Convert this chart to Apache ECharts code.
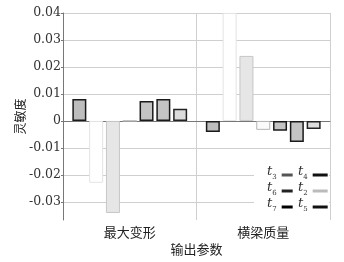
<!DOCTYPE html>
<html><head><meta charset="utf-8">
<script src="https://cdn.jsdelivr.net/npm/echarts@6/dist/echarts.min.js"></script>
<style>html,body{margin:0;padding:0;background:#fff}#c{width:344px;height:262px}</style>
</head><body><div id="c"></div>
<script>
var categories = ['最大变形', '横梁质量'];
var seriesNames = ['t1', 't2', 't3', 't4', 't5', 't6', 't7'];
var t1 = [0.0081, -0.0041];
var t2 = [-0.0229, 0.0400];
var t3 = [-0.0341, 0.0241];
var t4 = [0.0000, -0.0033];
var t5 = [0.0074, -0.0036];
var t6 = [0.0081, -0.0078];
var t7 = [0.0045, -0.0030];
var yTicks = [-0.03, -0.02, -0.01, 0, 0.01, 0.02, 0.03, 0.04];
var legendLeft = ['t3', 't6', 't7'];
var legendRight = ['t4', 't2', 't5'];

var values = [t1, t2, t3, t4, t5, t6, t7];
var styles = [
  {color: '#bdbdbd', borderColor: '#1a1a1a', borderWidth: 1.5},
  {color: '#ffffff', borderColor: '#e4e4e4', borderWidth: 1},
  {color: '#e6e6e6', borderColor: '#c6c6c6', borderWidth: 1},
  {color: '#fbfbfb', borderColor: '#b5b5b5', borderWidth: 1},
  {color: '#c4c4c4', borderColor: '#1a1a1a', borderWidth: 1.5},
  {color: '#c4c4c4', borderColor: '#1a1a1a', borderWidth: 1.5},
  {color: '#dcdcdc', borderColor: '#222222', borderWidth: 1.5}
];
var legendColors = {t3: '#555', t6: '#222', t7: '#000', t4: '#111', t2: '#bbb', t5: '#111'};

var series = seriesNames.map(function (n, i) {
  return {name: n, type: 'bar', data: values[i], barWidth: 14, barGap: '20%', itemStyle: styles[i]};
});

function legendCfg(names, left, w) {
  return {
    data: names.map(function (n) { return {name: n, itemStyle: {color: legendColors[n], borderWidth: 0}}; }),
    orient: 'vertical', left: left, top: 165, itemGap: 0, itemWidth: w, itemHeight: 3,
    icon: 'rect', align: 'right', padding: 0,
    formatter: function (n) { return '{t|t}{s|' + n.slice(1) + '}'; },
    textStyle: {
      rich: {
        t: {fontFamily: 'DejaVu Serif', fontStyle: 'italic', fontSize: 13, color: '#333', lineHeight: 12, verticalAlign: 'bottom', padding: [0, 0, 3, 0]},
        s: {fontFamily: 'DejaVu Serif', fontSize: 7, color: '#333', lineHeight: 8, verticalAlign: 'bottom'}
      }
    }
  };
}

var chart = echarts.init(document.getElementById('c'));
chart.setOption({
  animation: false,
  backgroundColor: '#fff',
  grid: {left: 63, right: 14, top: 13, bottom: 42},
  legend: [legendCfg(legendLeft, 267, 11), legendCfg(legendRight, 298, 15)],
  graphic: [{type: 'rect', left: 254, top: 156, shape: {width: 75, height: 62}, style: {fill: '#fff'}, z: 3}],
  xAxis: {
    type: 'category', data: categories, boundaryGap: true,
    name: '输出参数', nameLocation: 'middle', nameGap: 23, nameMoveOverlap: false,
    nameTextStyle: {fontFamily: 'Noto Sans CJK SC', fontSize: 13, color: '#222'},
    axisLine: {lineStyle: {color: '#777', width: 1}},
    axisTick: {show: false},
    axisLabel: {fontFamily: 'Noto Sans CJK SC', fontSize: 13, color: '#222', margin: 6},
    splitLine: {show: true, lineStyle: {color: '#cfcfcf', width: 1}}
  },
  yAxis: {
    type: 'value', min: -0.0367, max: 0.04,
    name: '灵敏度', nameLocation: 'middle', nameGap: 37, nameMoveOverlap: false,
    nameTextStyle: {fontFamily: 'Noto Sans CJK SC', fontSize: 12, color: '#222'},
    axisLine: {show: true, lineStyle: {color: '#777', width: 1}},
    axisTick: {show: true, length: 2, customValues: yTicks, lineStyle: {color: '#777'}},
    axisLabel: {customValues: yTicks, fontFamily: 'DejaVu Serif', fontSize: 12.5, color: '#333', margin: 2,
      formatter: function (v) { return Math.abs(v) < 1e-9 ? '0' : v.toFixed(2); }},
    splitLine: {show: true, lineStyle: {color: '#cfcfcf', width: 1}}
  },
  series: series
});
</script></body></html>
